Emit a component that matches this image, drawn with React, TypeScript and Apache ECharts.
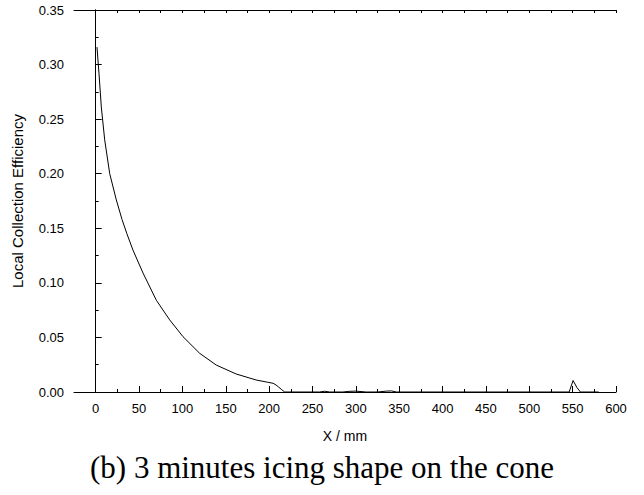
import React, { useEffect, useRef } from "react";
import * as echarts from "echarts";

// Local collection efficiency along the cone surface (X in mm)
const xMm = [
  1.5, 3.8, 6.5, 10.4, 16.2, 23.8, 30.4, 36, 43, 54.6, 70, 85.4, 100.7, 120,
  139, 162, 185, 198, 204.6, 208, 211, 214, 218, 240, 258, 264, 270, 285, 292,
  300, 312, 325, 335, 341, 347, 360, 420, 500, 540, 546, 550.5, 555, 559, 570,
  580,
];
const efficiency = [
  0.316, 0.292, 0.261, 0.231, 0.2, 0.176, 0.158, 0.145, 0.13, 0.109, 0.084,
  0.066, 0.0507, 0.0354, 0.0247, 0.0165, 0.011, 0.009, 0.008, 0.0064, 0.0045,
  0.0025, 0, 0, 0, 0.0007, 0, 0, 0.0006, 0.0008, 0, 0, 0.0008, 0.001, 0, 0, 0,
  0, 0, 0, 0.0105, 0.004, 0, 0, 0,
];

const xMajorTicks = [0, 50, 100, 150, 200, 250, 300, 350, 400, 450, 500, 550, 600];
const xMinorTicks = [25, 75, 125, 175, 225, 275, 325, 375, 425, 475, 525, 575];
const xTopTicks = [...xMajorTicks, ...xMinorTicks].sort((a, b) => a - b);

const caption = "(b) 3 minutes icing shape on the cone";

const AXIS_FONT = "Arial, 'Liberation Sans', sans-serif";

export default function App() {
  const ref = useRef<HTMLDivElement>(null);

  useEffect(() => {
    if (!ref.current) return;
    const chart = echarts.init(ref.current, null, { renderer: "svg" });
    const line = { lineStyle: { color: "#000", width: 1 } };
    const xBase = { type: "value" as const, min: -25, max: 600, interval: 25, splitLine: { show: false } };

    chart.setOption({
      animation: false,
      backgroundColor: "#fff",
      grid: { left: 74, right: 28, top: 10, bottom: 103 },
      xAxis: [
        {
          ...xBase,
          position: "bottom",
          axisLine: { show: true, ...line },
          axisTick: { show: true, inside: true, length: 6, customValues: xMajorTicks, ...line },
          axisLabel: {
            customValues: xMajorTicks,
            color: "#000",
            fontSize: 13,
            fontFamily: AXIS_FONT,
            margin: 10,
          },
          name: "X / mm",
          nameLocation: "middle",
          nameGap: 37,
          nameTextStyle: { color: "#000", fontSize: 14, fontFamily: AXIS_FONT },
        },
        {
          ...xBase,
          position: "bottom",
          axisLine: { show: false },
          axisTick: { show: true, inside: true, length: 3, customValues: xMinorTicks, ...line },
          axisLabel: { show: false },
        },
        {
          ...xBase,
          position: "top",
          axisLine: { show: true, ...line },
          axisTick: { show: true, inside: true, length: 3, customValues: xTopTicks, ...line },
          axisLabel: { show: false },
        },
      ],
      yAxis: [
        {
          type: "value",
          min: 0,
          max: 0.35,
          interval: 0.05,
          position: "left",
          splitLine: { show: false },
          axisLine: { show: true, ...line },
          axisTick: { show: true, inside: true, length: 6, ...line },
          minorTick: { show: true, splitNumber: 2, length: 3, ...line },
          axisLabel: {
            color: "#000",
            fontSize: 13,
            fontFamily: AXIS_FONT,
            margin: 10,
            formatter: (v: number) => v.toFixed(2),
          },
          name: "Local Collection Efficiency",
          nameLocation: "middle",
          nameGap: 49,
          nameTextStyle: { color: "#000", fontSize: 15, fontFamily: AXIS_FONT },
        },
        {
          type: "value",
          min: 0,
          max: 0.35,
          interval: 0.05,
          position: "right",
          splitLine: { show: false },
          axisLine: { show: true, ...line },
          axisTick: { show: false },
          axisLabel: { show: false },
        },
      ],
      graphic: [
        {
          type: "text",
          left: "center",
          top: 452,
          style: {
            text: caption,
            fill: "#000",
            font: "31px 'Liberation Serif', 'Times New Roman', serif",
          },
        },
      ],
      series: [
        {
          type: "line",
          xAxisIndex: 0,
          yAxisIndex: 0,
          data: xMm.map((x, i) => [x, efficiency[i]]),
          showSymbol: false,
          lineStyle: { color: "#000", width: 1 },
        },
      ],
    });

    return () => chart.dispose();
  }, []);

  return (
    <div
      ref={ref}
      style={{ position: "fixed", left: 0, top: 0, width: 644, height: 495 }}
    />
  );
}
